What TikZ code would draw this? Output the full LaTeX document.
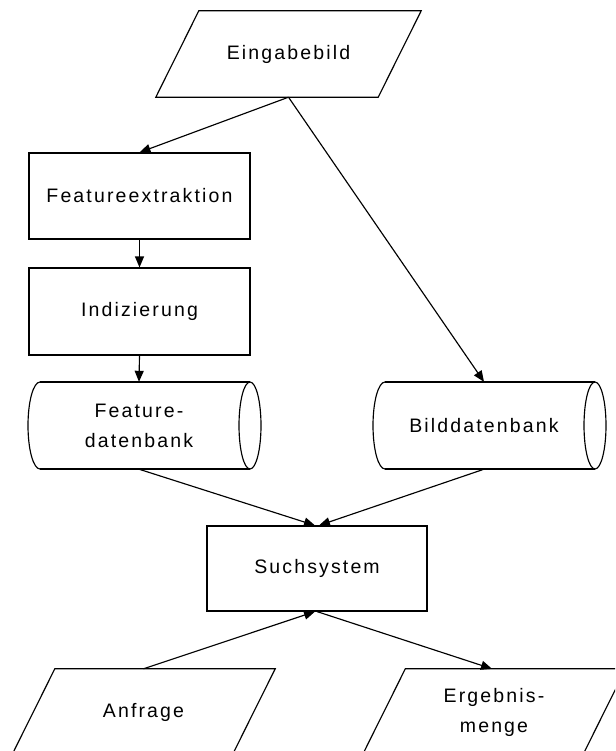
\documentclass[tikz,border=0pt]{standalone}
\usepackage{fontspec}
\setmainfont{Liberation Sans}[LetterSpace=11]
\usetikzlibrary{arrows.meta,calc}
\newcommand\myparal[1]{\draw[lw] ([xshift=21.5pt]#1.north west) -- ([xshift=21.5pt]#1.north east) -- ([xshift=-21.5pt]#1.south east) -- ([xshift=-21.5pt]#1.south west) -- cycle;}
\newcommand\mycyl[1]{%
  \draw[lw] ($(#1.center)+(-99,43.5)$) -- ++(210,0) ($(#1.center)+(-99,-43.5)$) -- ++(210,0);
  \draw[lw] ($(#1.center)+(111,0)$) ellipse [x radius=11, y radius=43.5];
  \draw[lw] ($(#1.center)+(-99,43.5)$) arc [start angle=90, end angle=270, x radius=12, y radius=43.5];}
\begin{document}
\begin{tikzpicture}[x=1pt,y=1pt,
  lw/.style={line width=1.15pt},
  txt/.style={font=\fontsize{19.5}{30}\selectfont, align=center, inner sep=0pt},
  proc/.style={txt, draw, lw, minimum width=221pt, minimum height=86pt},
  io/.style={txt, minimum width=222pt, minimum height=86pt},
  db/.style={txt, minimum width=200pt, minimum height=87pt},
  arr/.style={lw, -{Triangle[length=11pt,width=9pt]}}]
\useasboundingbox (0,0) rectangle (615,-751);
\clip (0,0) rectangle (615,-751);
\fill[white] (0,0) rectangle (615,-751);

\node[io] (ein) at (288.5,-54) {Eingabebild};
\myparal{ein}
\node[proc] (fe) at (139.5,-196) {Featureextraktion};
\node[proc, minimum height=87pt] (idx) at (139.5,-311.5) {Indizierung};
\node[db] (fdb) at (139,-425.5) {Feature-\\datenbank};
\mycyl{fdb}
\node[db] (bdb) at (484,-425.5) {Bilddatenbank};
\mycyl{bdb}
\node[proc, minimum width=220pt, minimum height=85pt] (ss) at (317,-568.5) {Suchsystem};
\node[io, minimum width=220pt] (anf) at (143.5,-712) {Anfrage};
\myparal{anf}
\node[io, minimum width=220pt] (erg) at (494,-712) {Ergebnis-\\menge};
\myparal{erg}

\draw[arr] (ein.south) -- (fe.north);
\draw[arr] (ein.south) -- (bdb.north);
\draw[arr] (fe.south) -- (idx.north);
\draw[arr] (idx.south) -- (fdb.north);
\draw[arr] (fdb.south) -- ([xshift=-2pt]ss.north);
\draw[arr] (bdb.south) -- ([xshift=2pt]ss.north);
\draw[arr] (anf.north) -- ([xshift=-2pt]ss.south);
\draw[arr] (ss.south) -- ([xshift=-2pt]erg.north);
\end{tikzpicture}
\end{document}
